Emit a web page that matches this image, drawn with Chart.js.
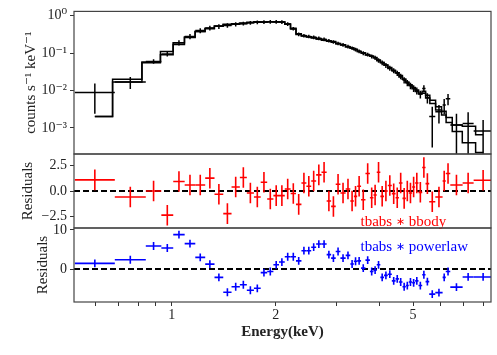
<!DOCTYPE html>
<html>
<head>
<meta charset="utf-8">
<script src="https://cdn.jsdelivr.net/npm/chart.js@4.4.0/dist/chart.umd.min.js"></script>
<style>
  body { margin: 0; background: #fff; }
  #wrap { position: relative; width: 497px; height: 355px; }
  canvas { position: absolute; left: 0; top: 0; }
</style>
</head>
<body>
<div id="wrap">
  <canvas id="spec" width="497" height="355"></canvas>
  <canvas id="resBB" width="497" height="355"></canvas>
  <canvas id="resPL" width="497" height="355"></canvas>
</div>
<script>
// channel edges in keV (61 edges -> 60 bins)
const edges = [
  0.524, 0.684, 0.841, 0.933, 1.01, 1.09, 1.17, 1.25, 1.33, 1.41,
  1.49, 1.575, 1.65, 1.73, 1.81, 1.89, 1.97, 2.045, 2.125, 2.21,
  2.29, 2.375, 2.455, 2.535, 2.62, 2.715, 2.81, 2.895, 2.985, 3.08,
  3.19, 3.29, 3.37, 3.445, 3.535, 3.64, 3.75, 3.84, 3.925, 4.02,
  4.12, 4.225, 4.34, 4.45, 4.55, 4.66, 4.765, 4.86, 4.97, 5.07,
  5.185, 5.315, 5.435, 5.57, 5.80, 6.09, 6.22, 6.41, 6.96, 7.49,
  8.5
];

// counts s^-1 keV^-1
const counts = [
  0.0089, 0.017, 0.060, 0.095, 0.19, 0.28, 0.40, 0.47, 0.52, 0.55,
  0.59, 0.62, 0.65, 0.67, 0.68, 0.69, 0.69, 0.68, 0.60, 0.45,
  0.32, 0.295, 0.28, 0.265, 0.25, 0.235, 0.215, 0.20, 0.182, 0.167,
  0.15, 0.136, 0.125, 0.112, 0.100, 0.092, 0.082, 0.075, 0.064, 0.055,
  0.047, 0.040, 0.034, 0.029, 0.024, 0.019, 0.016, 0.0135, 0.0115, 0.0099,
  0.008, 0.0113, 0.0065, 0.0020, 0.0027, 0.0041, 0.0060, 0.0012, 0.0013, 0.00083
];
const countsErr = [
  0.0065, 0.006, 0.008, 0.014, 0.03, 0.045, 0.06, 0.07, 0.075, 0.075,
  0.075, 0.075, 0.075, 0.075, 0.075, 0.075, 0.075, 0.075, 0.065, 0.05,
  0.036, 0.032, 0.03, 0.029, 0.028, 0.026, 0.024, 0.022, 0.02, 0.019,
  0.017, 0.015, 0.014, 0.013, 0.012, 0.011, 0.01, 0.0095, 0.009, 0.008,
  0.007, 0.006, 0.0052, 0.0045, 0.004, 0.0035, 0.003, 0.0027, 0.0024, 0.0021,
  0.0019, 0.0025, 0.002, 0.0017, 0.0014, 0.0018, 0.002, 0.0012, 0.0013, 0.0008
];
const modelBB = [
  0.002, 0.02, 0.058, 0.11, 0.19, 0.27, 0.38, 0.45, 0.52, 0.57,
  0.59, 0.61, 0.65, 0.67, 0.67, 0.69, 0.69, 0.68, 0.60, 0.46,
  0.33, 0.29, 0.275, 0.26, 0.24, 0.225, 0.215, 0.205, 0.18, 0.168,
  0.149, 0.138, 0.126, 0.111, 0.101, 0.089, 0.083, 0.076, 0.062, 0.056,
  0.047, 0.039, 0.034, 0.030, 0.023, 0.020, 0.016, 0.0136, 0.0112, 0.0094,
  0.0081, 0.0085, 0.0063, 0.0045, 0.003, 0.0022, 0.0014, 0.0008, 0.0004, 0.00022
];
const modelPL = [
  0.002, 0.017, 0.055, 0.09, 0.17, 0.26, 0.38, 0.46, 0.53, 0.59,
  0.61, 0.64, 0.67, 0.69, 0.68, 0.69, 0.685, 0.675, 0.59, 0.445,
  0.315, 0.285, 0.27, 0.255, 0.238, 0.222, 0.209, 0.195, 0.178, 0.164,
  0.147, 0.135, 0.123, 0.111, 0.1, 0.09, 0.082, 0.075, 0.065, 0.056,
  0.048, 0.041, 0.035, 0.030, 0.025, 0.020, 0.017, 0.0142, 0.012, 0.0103,
  0.0085, 0.0095, 0.0075, 0.0055, 0.0037, 0.0028, 0.0019, 0.0012, 0.0011, 0.00065
];

// residuals (data - model) / error
const resBB = [
  1.08, -0.59, 0.0, -2.35, 0.92, 0.59, 0.59, 1.25, -0.32, -2.2,
  0.39, 1.31, -0.2, -0.59, 0.85, -0.78, -0.45, -0.45, 0.2, -0.25,
  -1.3, 0.78, 0.46, 0.98, 1.57, 1.83, -0.98, -1.5, 0.66, -0.2,
  0.2, -0.98, -0.52, 0.46, -0.85, 1.7, -0.65, -0.39, 1.83, -0.52,
  0.0, 0.53, -0.26, -0.65, 0.78, -0.72, 0.0, -0.2, 0.39, 0.78,
  -0.13, 2.29, 0.72, -1.04, -0.59, 0.98, 1.7, 0.59, 0.78, 1.05
];
const resPL = [
  1.46, 2.4, 5.9, 5.4, 8.8, 6.5, 3.0, 1.28, -2.1, -5.9,
  -4.5, -4.0, -5.4, -4.9, -0.9, -0.6, 1.1, 1.8, 3.15, 3.15,
  2.1, 4.7, 4.7, 5.6, 6.4, 6.4, 3.7, 2.8, 4.5, 2.8,
  3.5, 1.3, 2.0, 2.1, 0.26, 2.3, -0.6, -0.26, 1.1, -2.1,
  -1.6, -1.3, -3.0, -2.5, -3.3, -4.5, -4.2, -3.3, -3.5, -3.0,
  -4.2, -1.45, -3.2, -6.4, -6.0, -2.1, -0.6, -4.6, -2.0, -2.0
];
const resErr = 1;

const energyTicks = [0.6, 0.7, 0.8, 0.9, 1, 2, 3, 4, 5, 6, 7, 8];
const energyLabels = [1, 2, 5];
const specTicks = [1e-3, 1e-2, 1e-1, 1];
const specLabels = ["10⁻³", "10⁻²", "10⁻¹", "10⁰"];
const bbTicks = [-2.5, 0, 2.5];
const plTicks = [0, 10];

const centers = counts.map((_, i) => Math.sqrt(edges[i] * edges[i + 1]));

Chart.defaults.font.family = "'Liberation Serif', 'DejaVu Serif', serif";
Chart.defaults.font.size = 14;
Chart.defaults.color = "#222";
Chart.defaults.animation = false;

const H = 355;
const AXIS_W = 74;

// error bars, frame, zero line, model label
const decor = {
  id: "decor",
  afterDatasetsDraw(chart, args, o) {
    const { ctx, chartArea: a, scales: { x, y } } = chart;
    ctx.save();
    ctx.beginPath();
    ctx.rect(a.left, a.top, a.width, a.height);
    ctx.clip();
    if (o.zero) {
      ctx.strokeStyle = "#000";
      ctx.lineWidth = 2;
      ctx.setLineDash([6, 3]);
      ctx.beginPath();
      const zy = y.getPixelForValue(0);
      ctx.moveTo(a.left, zy);
      ctx.lineTo(a.right, zy);
      ctx.stroke();
      ctx.setLineDash([]);
    }
    ctx.strokeStyle = o.color;
    ctx.lineWidth = o.width;
    o.vals.forEach((v, i) => {
      const e = Array.isArray(o.err) ? o.err[i] : o.err;
      const px = x.getPixelForValue(centers[i]);
      const py = y.getPixelForValue(v);
      const lo = Math.max(v - e, y.min);
      ctx.beginPath();
      ctx.moveTo(x.getPixelForValue(edges[i]), py);
      ctx.lineTo(x.getPixelForValue(edges[i + 1]), py);
      ctx.moveTo(px, y.getPixelForValue(lo));
      ctx.lineTo(px, y.getPixelForValue(v + e));
      ctx.stroke();
    });
    ctx.restore();

    ctx.save();
    ctx.strokeStyle = "#444";
    ctx.lineWidth = 1.2;
    ctx.strokeRect(a.left, a.top, a.width, a.height);
    if (o.label) {
      // "tbabs ∗ model" with a small centred asterisk
      ctx.fillStyle = o.color;
      ctx.textBaseline = "alphabetic";
      let tx = a.left + o.labelX * a.width;
      const ty = a.top + o.labelY * a.height + 5;
      const big = "15px 'Liberation Serif', serif";
      ctx.font = big;
      ctx.fillText("tbabs ", tx, ty);
      tx += ctx.measureText("tbabs ").width;
      ctx.font = "11px 'DejaVu Sans', sans-serif";
      ctx.fillText("∗", tx, ty - 1);
      tx += ctx.measureText("∗").width;
      ctx.font = big;
      ctx.fillText(" " + o.label, tx, ty);
    }
    ctx.restore();
  }
};

function yAxis(extra) {
  return Object.assign({
    afterFit: s => { s.width = AXIS_W; },
    grid: { drawOnChartArea: false, drawTicks: true, tickLength: 4, tickColor: "#333" },
    border: { display: false }
  }, extra);
}

function xAxis(show) {
  return {
    type: "logarithmic",
    min: 0.521,
    max: 8.41,
    display: show,
    afterBuildTicks: s => { s.ticks = energyTicks.map(v => ({ value: v })); },
    afterFit: s => { if (show) s.height = 53; },
    grid: { drawOnChartArea: false, drawTicks: true, tickLength: 4, tickColor: "#333" },
    border: { display: false },
    ticks: {
      autoSkip: false, maxRotation: 0, padding: 1,
      callback: v => energyLabels.includes(v) ? String(v) : ""
    },
    title: {
      display: show, text: "Energy(keV)",
      font: { size: 15, weight: "bold" },
      padding: { top: 0, bottom: 14 }
    }
  };
}

// spectrum panel
new Chart(document.getElementById("spec"), {
  type: "scatter",
  data: {
    datasets: [
      { data: centers.map((x, i) => ({ x, y: counts[i] })), pointRadius: 0 },
      { data: centers.map((x, i) => ({ x, y: modelBB[i] })), showLine: true, stepped: "middle",
        borderColor: "#000", borderWidth: 1.5, pointRadius: 0 },
      { data: centers.map((x, i) => ({ x, y: modelPL[i] })), showLine: true, stepped: "middle",
        borderColor: "#000", borderWidth: 1.5, pointRadius: 0 }
    ]
  },
  options: {
    responsive: false,
    layout: { padding: { top: 6, bottom: H - 154, left: 0, right: 6 } },
    plugins: {
      legend: { display: false }, tooltip: { enabled: false },
      decor: { vals: counts, err: countsErr, color: "#000", width: 1.5 }
    },
    scales: {
      x: xAxis(false),
      y: yAxis({
        type: "logarithmic", min: 2.0e-4, max: 1.306,
        afterBuildTicks: s => { s.ticks = specTicks.map(v => ({ value: v })); },
        ticks: { padding: 3, font: { size: 14 }, callback: v => specLabels[specTicks.indexOf(v)] },
        title: { display: true, text: "counts s⁻¹ keV⁻¹", font: { size: 15 }, padding: { top: 22, bottom: 0 } }
      })
    }
  },
  plugins: [decor]
});

// bbody residuals
new Chart(document.getElementById("resBB"), {
  type: "scatter",
  data: { datasets: [{ data: centers.map((x, i) => ({ x, y: resBB[i] })), pointRadius: 0 }] },
  options: {
    responsive: false,
    layout: { padding: { top: 154, bottom: H - 228, left: 0, right: 6 } },
    plugins: {
      legend: { display: false }, tooltip: { enabled: false },
      decor: { vals: resBB, err: resErr, color: "#ff0000", width: 1.6, zero: true,
               label: "bbody", labelX: 0.687, labelY: 0.9 }
    },
    scales: {
      x: xAxis(false),
      y: yAxis({
        type: "linear", min: -3.6, max: 3.6,
        afterBuildTicks: s => { s.ticks = bbTicks.map(v => ({ value: v })); },
        ticks: { padding: 3, font: { size: 14 },
                 callback: v => (v < 0 ? "−" : "") + Math.abs(v).toFixed(1) },
        title: { display: true, text: "Residuals", font: { size: 15 }, padding: { top: 19, bottom: 0 } }
      })
    }
  },
  plugins: [decor]
});

// powerlaw residuals
new Chart(document.getElementById("resPL"), {
  type: "scatter",
  data: { datasets: [{ data: centers.map((x, i) => ({ x, y: resPL[i] })), pointRadius: 0 }] },
  options: {
    responsive: false,
    layout: { padding: { top: 228, bottom: 0, left: 0, right: 6 } },
    plugins: {
      legend: { display: false }, tooltip: { enabled: false },
      decor: { vals: resPL, err: resErr, color: "#0000ff", width: 1.6, zero: true,
               label: "powerlaw", labelX: 0.687, labelY: 0.24 }
    },
    scales: {
      x: xAxis(true),
      y: yAxis({
        type: "linear", min: -8.4, max: 10.5,
        afterBuildTicks: s => { s.ticks = plTicks.map(v => ({ value: v })); },
        ticks: { padding: 3, font: { size: 14 }, callback: v => String(v) },
        title: { display: true, text: "Residuals", font: { size: 15 }, padding: { top: 34, bottom: 0 } }
      })
    }
  },
  plugins: [decor]
});
</script>
</body>
</html>
